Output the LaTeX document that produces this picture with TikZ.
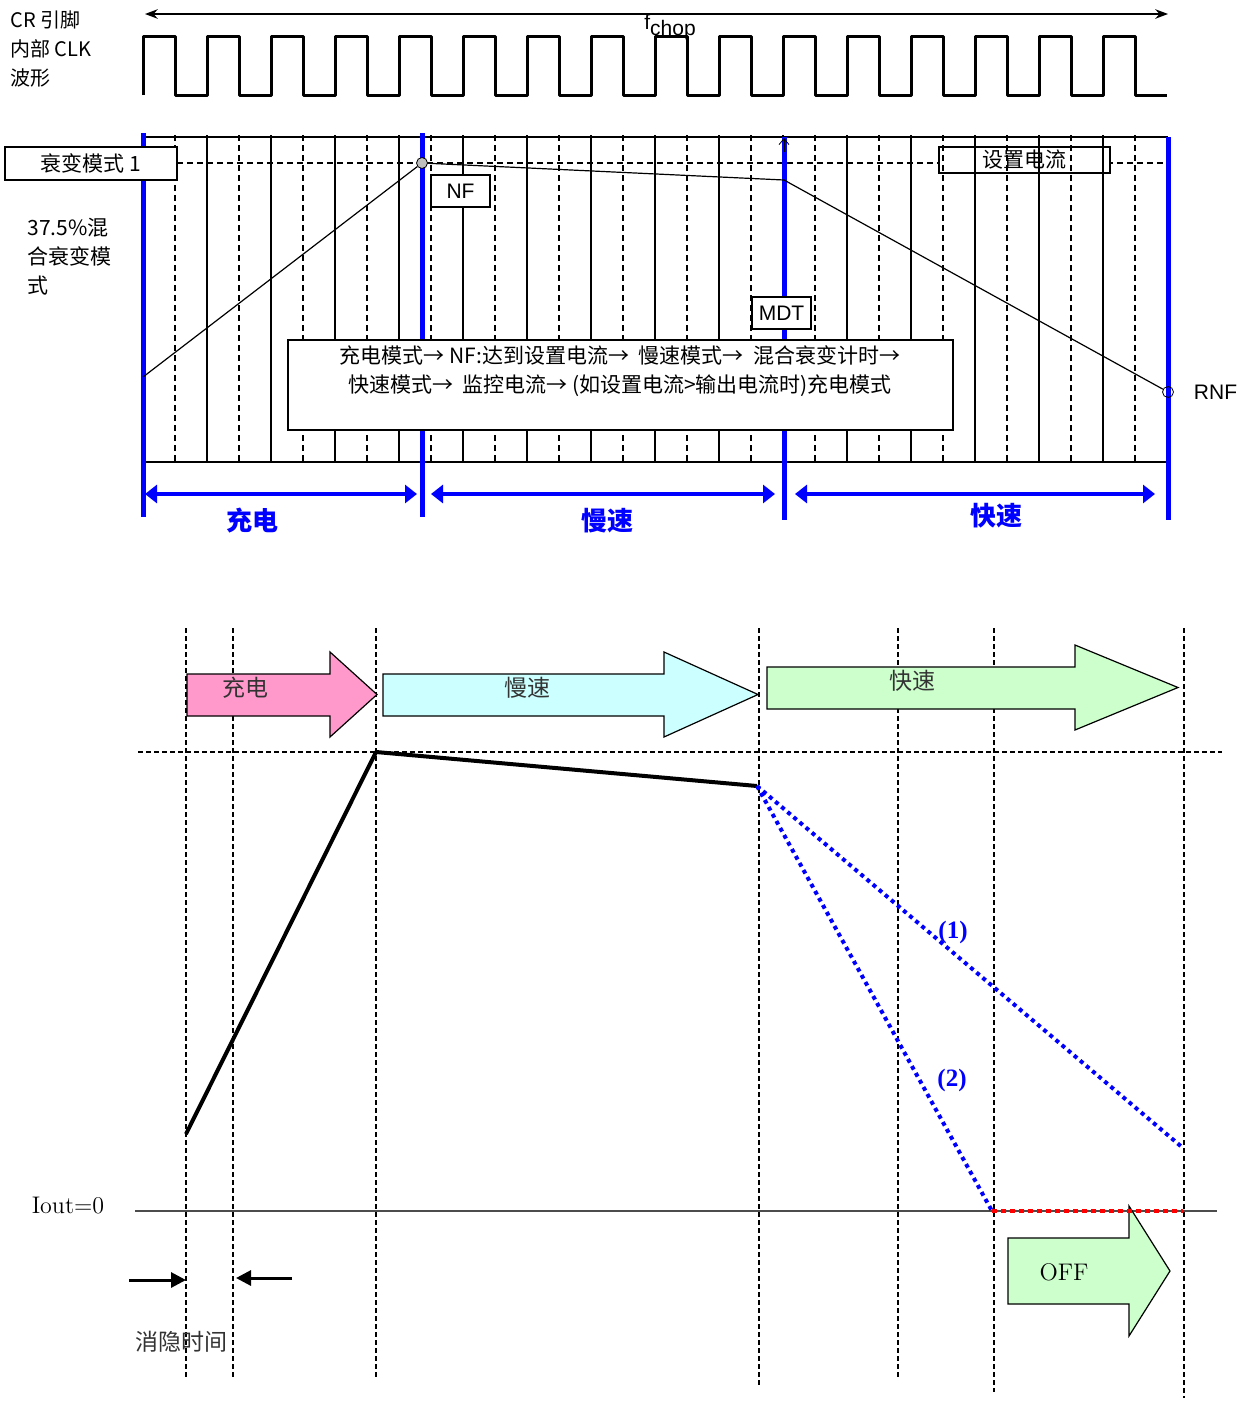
\documentclass[tikz,border=0pt]{standalone}
\usepackage{fontspec}
\newfontfamily\cjk{Noto Sans CJK SC}
\newfontfamily\arial{Liberation Sans}
\newfontfamily\seriffont{Liberation Serif}
\usetikzlibrary{positioning,calc,arrows.meta}
\definecolor{pinkfill}{HTML}{FF99CC}
\definecolor{cyanfill}{HTML}{CCFFFF}
\definecolor{greenfill}{HTML}{CCFFCC}
\tikzset{
  >=Stealth,
  my clk/.style={line width=1.5pt,line join=round},
  my grid/.style={line width=0.6pt},
  my griddash/.style={line width=0.6pt,dash pattern=on 3pt off 2pt},
  my phase/.style={blue,line width=2.5pt},
  my span/.style={
    blue,
    line width=2.2pt,
    {Triangle[length=6pt,width=9pt]}-{Triangle[length=6pt,width=9pt]}
  },
  my tag/.style={
    draw,
    fill=white,
    line width=0.6pt,
    inner sep=0pt,
    font=\cjk\fontsize{10.5}{12}\selectfont
  },
  my label/.style={font=\cjk\fontsize{10.5}{14.5}\selectfont},
  my phase label/.style={blue,font=\cjk\bfseries\fontsize{13}{15}\selectfont},
  my arrow label/.style={black!80,font=\cjk\fontsize{11.5}{13}\selectfont},
  my vdash/.style={line width=0.6pt,dash pattern=on 2.5pt off 1.5pt},
  my decay/.style={blue,line width=2pt,dash pattern=on 2pt off 2pt},
  my case/.style={blue,font=\seriffont\bfseries\fontsize{12.5}{14}\selectfont}
}
% block arrow: fill, x left, x neck, x tip, body top, body bottom, head top, head bottom
\newcommand\bigarrow[8]{%
  \draw[fill=#1,line width=0.6pt,line join=miter]
    (#2,#5) -- (#3,#5) -- (#3,#7) -- (#4,{(#7+#8)/2}) -- (#3,#8) -- (#3,#6) -- (#2,#6) -- cycle;}

\begin{document}
\begin{tikzpicture}[x=0.5pt,y=-0.5pt]
\useasboundingbox (0,0) rectangle (1244,1403);

% clock
\node (cr)  [anchor=west,inner sep=0pt,font=\cjk\fontsize{10}{12}\selectfont] at (10,20) {CR 引脚};
\node (clk) [anchor=west,inner sep=0pt,font=\cjk\fontsize{10}{12}\selectfont] at (10,49) {内部 CLK};
\node (wav) [anchor=west,inner sep=0pt,font=\cjk\fontsize{10}{12}\selectfont] at (10,78) {波形};
\coordinate (chopL) at (145,14);
\coordinate (chopR) at (1168,14);
\draw[<->,line width=0.75pt] (chopL) -- (chopR);
\node (fchop) [font=\arial\fontsize{10.5}{12}\selectfont] at (670,27) {f\raisebox{-0.55ex}{chop}};
\draw[my clk] (143,95) \foreach \k in {0,...,15} {
  -- ({143+64*\k},36) -- ({175+64*\k},36) -- ({175+64*\k},95) -- ({207+64*\k},95)};

% grid
\draw[my griddash] (177,163) -- (1168,163);
\node (iset) [my tag,minimum width=85.5pt,minimum height=13pt] at (1024.5,160) {设置电流};
\foreach \k in {0,...,15}
  \draw[my griddash] ({175+64*\k},135) -- ({175+64*\k},462);
\foreach \k in {1,...,15}
  \draw[my grid] ({143+64*\k},135) -- ({143+64*\k},462);
\draw[my grid] (143,137) -- (1168,137);
\draw[my grid] (143,462) -- (1168,462);
\draw[my phase] (143,133) -- (143,517);
\draw[my phase] (422,133) -- (422,517);
\draw[my phase] (784,137) -- (784,520);
\draw[my phase] (1168,137) -- (1168,520);
\draw[-{Straight Barb[length=3pt,width=5pt]},line width=0.4pt] (784,152) -- (784,138);

% current
\coordinate (s0) at (143,377);
\node (peak) [circle,draw,fill=gray!50,inner sep=0pt,minimum size=5.5pt] at (422,163) {};
\coordinate (mdtpt) at (784,180);
\node (rnf) [circle,draw,inner sep=0pt,minimum size=5.5pt] at (1168,392) {};
\draw[line width=0.6pt] (s0) -- (peak) -- (mdtpt) -- (rnf);
\node (rnflabel) [right=6.5pt of rnf,font=\arial\fontsize{10.5}{12}\selectfont] {RNF};

\node (decay) [my tag,minimum width=86pt,minimum height=16.5pt] at (91,163.5) {衰变模式 1};
\node (nf)  [my tag,font=\arial\fontsize{10.5}{12}\selectfont,minimum width=29.5pt,minimum height=16pt] at (460.5,191) {NF};
\node (mdt) [my tag,font=\arial\fontsize{10.5}{12}\selectfont,minimum width=29.5pt,minimum height=16pt] at (781.5,313) {MDT};
\node (flow) [draw,fill=white,line width=0.6pt,minimum width=332.5pt,minimum height=45pt] at (620.5,385) {};
\node (flowtext) [my label,align=center] at (620,371)
  {充电模式→ NF:达到设置电流→\ \ 慢速模式→\ \ 混合衰变计时→\\
   快速模式→\ \ 监控电流→ (如设置电流>输出电流时)充电模式};
\node (mixed) [my label,anchor=north west,inner sep=0pt,align=left] at (27,218)
  {37.5\%混\\合衰变模\\式};

% phases
\coordinate (p0) at (145,494);
\coordinate (p1) at (417,494);
\coordinate (p2) at (431,494);
\coordinate (p3) at (775,494);
\coordinate (p4) at (795,494);
\coordinate (p5) at (1155,494);
\draw[my span] (p0) -- (p1);
\draw[my span] (p2) -- (p3);
\draw[my span] (p4) -- (p5);
\node (charge) [my phase label] at (252,521) {充电};
\node (slow)   [my phase label] at (607,521) {慢速};
\node (fast)   [my phase label] at (996,516) {快速};

% lower chart
\foreach \x/\b in {186/1379,233/1379,376/1379,759/1385,898/1380,994/1392,1184/1398}
  \draw[my vdash] (\x,628) -- (\x,\b);
\draw[my vdash] (138,752) -- (1222,752);

\bigarrow{pinkfill}{187}{330}{377}{674}{716}{652}{737}
\bigarrow{cyanfill}{383}{664}{758}{674}{716}{652}{737}
\bigarrow{greenfill}{767}{1075}{1178}{667}{709}{645}{730}
\node (a1) [my arrow label] at (245,688) {充电};
\node (a2) [my arrow label] at (527,688) {慢速};
\node (a3) [my arrow label] at (912,681) {快速};

\draw[black!70,line width=0.75pt] (135,1211) -- (1217,1211);
\node (iout) [font=\fontsize{12}{14}\selectfont] at (68,1206) {Iout=0};

\bigarrow{greenfill}{1008}{1129}{1170}{1238}{1304}{1206}{1336}
\node (off) [font=\fontsize{12}{14}\selectfont] at (1064,1272) {OFF};

\coordinate (c0) at (186,1134);
\coordinate (c1) at (376,752);
\coordinate (c2) at (757,786);
\coordinate (e1) at (1183,1148);
\coordinate (e2) at (992,1211);
\coordinate (e3) at (1183,1211);
\draw[line width=2pt,line join=round] (c0) -- (c1) -- (c2);
\draw[my decay] (c2) -- (e1);
\draw[my decay] (c2) -- (e2);
\draw[red,line width=2pt,dash pattern=on 2.5pt off 2pt] (e2) -- (e3);
\node (n1) [my case] at (953,932) {(1)};
\node (n2) [my case] at (952,1080) {(2)};

% blanking
\coordinate (bl0) at (129,1280);
\coordinate (bl1) at (186,1280);
\coordinate (br0) at (292,1278);
\coordinate (br1) at (236,1278);
\draw[line width=1.5pt,-{Triangle[length=7.5pt,width=7.5pt]}] (bl0) -- (bl1);
\draw[line width=1.5pt,-{Triangle[length=7.5pt,width=7.5pt]}] (br0) -- (br1);
\node (blank) [my arrow label] at (181,1342) {消隐时间};
\end{tikzpicture}
\end{document}
